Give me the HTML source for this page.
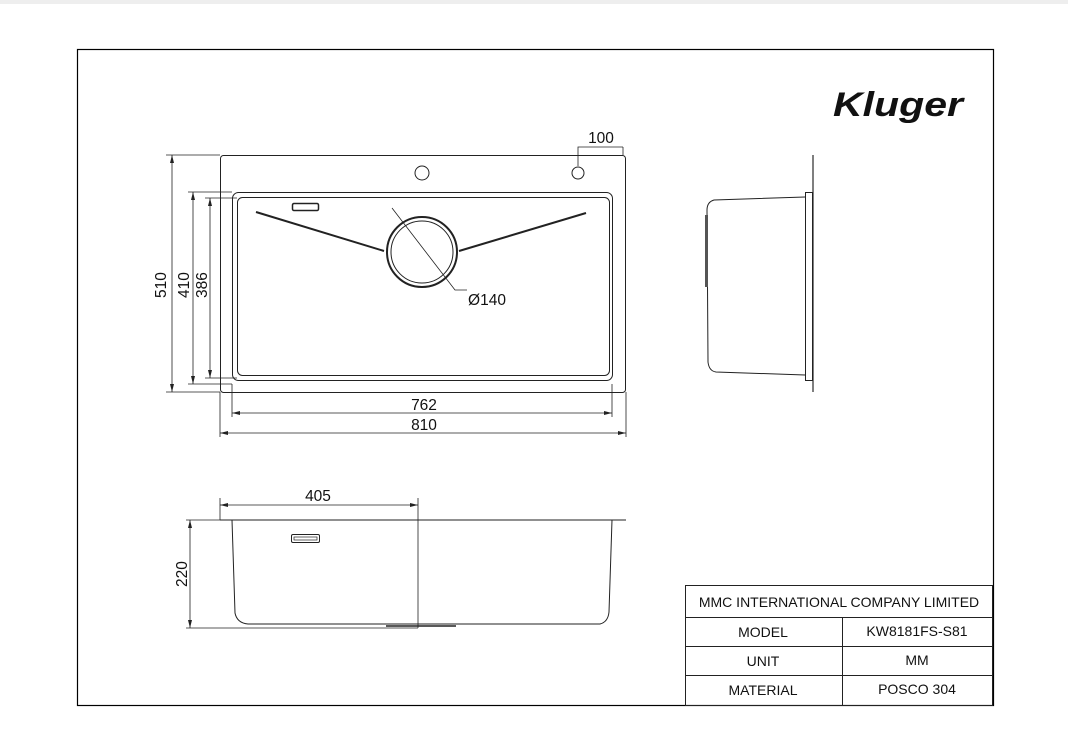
<!DOCTYPE html>
<html><head><meta charset="utf-8"><style>
html,body{margin:0;padding:0;background:#fff;}
svg{display:block;}
text{font-family:"Liberation Sans",sans-serif;fill:#111;}
</style></head><body>
<svg width="1068" height="753" viewBox="0 0 1068 753" xmlns="http://www.w3.org/2000/svg">
<rect x="0" y="0" width="1068" height="4" fill="#eee"/>
<rect x="77.5" y="49.5" width="916" height="656" fill="none" stroke="#000" stroke-width="1.2"/>
<text x="833" y="116" font-size="34" font-weight="bold" font-style="italic" textLength="130" lengthAdjust="spacingAndGlyphs">Kluger</text>

<g fill="none" stroke="#222" stroke-width="1">
<rect x="220.5" y="155.5" width="405" height="237" rx="3"/>
<rect x="232.5" y="192.5" width="380" height="188" rx="6"/>
<rect x="237.5" y="197.5" width="372" height="178" rx="5"/>
<circle cx="422" cy="173" r="7"/>
<circle cx="578" cy="173" r="6"/>
<rect x="292.5" y="203.5" width="26" height="7" rx="1.5" stroke-width="1.5"/>
<circle cx="422" cy="252" r="35" stroke-width="2"/>
<circle cx="422" cy="252" r="31"/>
<path d="M256 212 L384 251 M586 213 L459 251" stroke-width="2"/>
<path d="M392 208 L455 290 L467 290" stroke-width="0.8"/>
<path d="M172 155 V392 M166 155 H220 M166 392 H220" stroke-width="0.8"/>
<path d="M193 192 V384 M188 192 H232 M188 384 H232" stroke-width="0.8"/>
<path d="M210 198 V378 M205 198 H237 M205 378 H237" stroke-width="0.8"/>
<path d="M232 384 V417 M612 384 V417 M232 413 H612" stroke-width="0.8"/>
<path d="M220 392 V437 M626 392 V437 M220 433 H626" stroke-width="0.8"/>
<path d="M578 166 V147 H623 M623 147 V155" stroke-width="0.8"/>
<path d="M813 155 V392" stroke="#555" stroke-width="1.5"/>
<rect x="805.5" y="192.5" width="7" height="188"/>
<path d="M805 197 L714 200 Q707 202 707 210 L708 362 Q709 371 716 372 L805 375"/>
<rect x="705" y="215" width="3" height="72" fill="#555" stroke="none"/>
<path d="M220 520 H626"/>
<path d="M232 520 L235 613 Q237 623 248 624 L600 624 Q608 622 609 612 L612 520"/>
<path d="M386 626 H456" stroke-width="1.5"/>
<rect x="291.5" y="534.5" width="28" height="8" rx="1.5"/>
<rect x="294" y="537" width="23" height="3" stroke-width="0.7"/>
<path d="M220 498 V520 M418 498 V628 M220 505 H418" stroke-width="0.8"/>
<path d="M186 520 H232 M186 628 H418 M190 520 V628" stroke-width="0.8"/>
<rect x="685.5" y="585.5" width="307" height="120"/>
<path d="M685 617.5 H993 M685 646.5 H993 M685 675.5 H993 M842.5 617 V705"/>
</g>
<g fill="#222">
<path d="M172 155 l-2 8 h4z M172 392 l-2 -8 h4z M193 192 l-2 8 h4z M193 384 l-2 -8 h4z M210 198 l-2 8 h4z M210 378 l-2 -8 h4z"/>
<path d="M232 413 l8 -2 v4z M612 413 l-8 -2 v4z M220 433 l8 -2 v4z M626 433 l-8 -2 v4z"/>
<path d="M220 505 l8 -2 v4z M418 505 l-8 -2 v4z M190 520 l-2 8 h4z M190 628 l-2 -8 h4z"/>
</g>
<g font-size="15.5" text-anchor="middle">
<text x="424" y="410">762</text>
<text x="424" y="430">810</text>
<text x="601" y="143">100</text>
<text x="487" y="305">Ø140</text>
<text x="318" y="501">405</text>
<text transform="translate(166,285) rotate(-90)">510</text>
<text transform="translate(189,285) rotate(-90)">410</text>
<text transform="translate(207,285) rotate(-90)">386</text>
<text transform="translate(187,574) rotate(-90)">220</text>
</g>
<g font-size="14" text-anchor="middle">
<text x="839" y="607">MMC INTERNATIONAL COMPANY LIMITED</text>
<text x="763" y="637">MODEL</text>
<text x="917" y="636">KW8181FS-S81</text>
<text x="763" y="666">UNIT</text>
<text x="917" y="665">MM</text>
<text x="763" y="695">MATERIAL</text>
<text x="917" y="694">POSCO 304</text>
</g>
</svg>
</body></html>
